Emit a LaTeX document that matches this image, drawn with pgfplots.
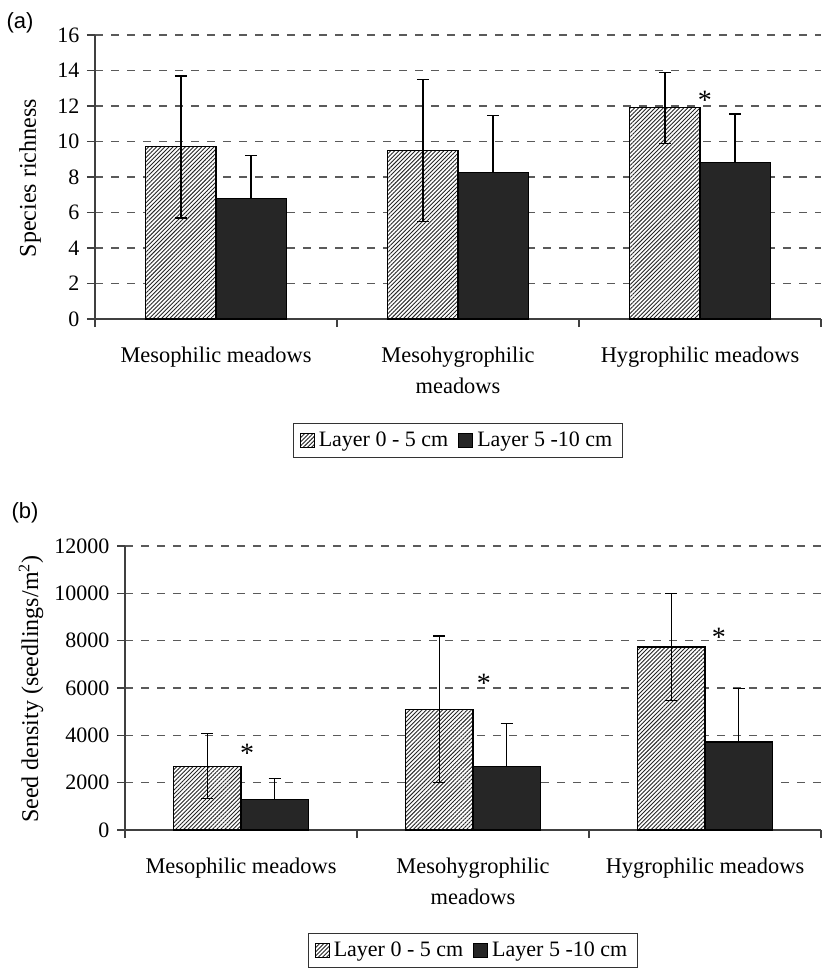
\documentclass[border=0pt]{standalone}
\usepackage{fontspec}
\setmainfont{Liberation Serif}
\setsansfont{Liberation Sans}
\usepackage{pgfplots}
\pgfplotsset{compat=1.18}
\usetikzlibrary{patterns.meta}

\definecolor{barblack}{HTML}{262626}
\definecolor{gridgray}{HTML}{5A5A5A}

\pgfplotsset{
  myaxis/.style={
    scale only axis,
    ybar=0pt, bar width=0.29,
    xmin=0, xmax=3, ymin=0,
    axis x line=bottom, axis y line=left,
    axis line style={-, black!75, line width=0.6pt},
    tick align=outside, major tick length=4pt,
    tick style={black!75, line width=0.6pt},
    xtick={0,1,2,3}, xticklabels={},
    extra x ticks={0.5,1.5,2.5},
    extra x tick labels={Mesophilic meadows,{Mesohygrophilic\\meadows},Hygrophilic meadows},
    extra x tick style={tick style={draw=none}},
    xticklabel style={align=center, font=\fontsize{11.2}{15.5}\selectfont, yshift=-6pt},
    yticklabel style={font=\fontsize{11}{13}\selectfont},
    ymajorgrids,
    grid style={gridgray, line width=0.7pt, dash pattern=on 4pt off 4pt},
    /pgf/number format/assume math mode=true,
    /pgf/number format/1000 sep={},
    scaled y ticks=false,
    ylabel style={font=\fontsize{12}{14}\selectfont, anchor=center},
    legend image code/.code={\draw[##1, line width=0.5pt] (0pt,-3.5pt) rectangle (7pt,3.5pt);},
    legend style={anchor=north, draw=black!80, line width=0.6pt, legend columns=2,
      font=\fontsize{11}{13}\selectfont, inner xsep=3pt, inner ysep=2pt,
      /tikz/every even column/.append style={column sep=3pt}},
  },
  hatched/.style={draw=black, line width=0.6pt, fill=white,
    postaction={pattern={Lines[angle=45, distance=1.45pt, line width=0.45pt]}, pattern color=black!85},
    error bars/.cd, y dir=both, y explicit,
    error bar style={black, line width=0.7pt},
    error mark options={rotate=90, mark size=3pt, line width=0.7pt, black}},
  solidbar/.style={draw=black, line width=0.6pt, fill=barblack,
    error bars/.cd, y dir=plus, y explicit,
    error bar style={black, line width=0.7pt},
    error mark options={rotate=90, mark size=3pt, line width=0.7pt, black}},
}

\begin{document}
\fontsize{11}{13}\selectfont
\begin{tikzpicture}
\useasboundingbox (0,0) rectangle (410.5pt,-484pt);

% ---------- panel (a)
\begin{axis}[myaxis,
  at={(47.5pt,-159.5pt)}, anchor=south west,
  width=363pt, height=142pt,
  ymax=16, ytick={0,2,...,16},
  ylabel={Species richness},
  ylabel style={at={(axis description cs:-0.0895,0.496)}},
  legend style={at={(0.5,-0.366)}},
]
\addplot[hatched] coordinates {
  (0.5,9.7) +- (0,4.0)
  (1.5,9.5) +- (0,4.0)
  (2.5,11.9) +- (0,2.0)
};
\addplot[solidbar] coordinates {
  (0.5,6.8) +- (0,2.4)
  (1.5,8.25) +- (0,3.2)
  (2.5,8.8) +- (0,2.75)
};
\legend{Layer 0 - 5 cm, Layer 5 -10 cm}
\node[font=\fontsize{14}{14}\selectfont, yshift=-2.5pt] at (axis cs:2.52,12.62) {*};
\end{axis}

% ---------- panel (b)
\begin{axis}[myaxis,
  at={(62.5pt,-415pt)}, anchor=south west,
  width=348pt, height=142pt,
  ymax=12000, ytick={0,2000,...,12000},
  ylabel={Seed density (seedlings/m\textsuperscript{2})},
  ylabel style={at={(axis description cs:-0.135,0.496)}},
  legend style={at={(0.5,-0.363)}},
]
\addplot[hatched] coordinates {
  (0.5,2700) +- (0,1370)
  (1.5,5100) +- (0,3100)
  (2.5,7730) +- (0,2270)
};
\addplot[solidbar] coordinates {
  (0.5,1300) +- (0,880)
  (1.5,2700) +- (0,1800)
  (2.5,3720) +- (0,2250)
};
\legend{Layer 0 - 5 cm, Layer 5 -10 cm}
\node[font=\fontsize{14}{14}\selectfont, yshift=-2.5pt] at (axis cs:0.526,3465) {*};
\node[font=\fontsize{14}{14}\selectfont, yshift=-2.5pt] at (axis cs:1.547,6420) {*};
\node[font=\fontsize{14}{14}\selectfont, yshift=-2.5pt] at (axis cs:2.56,8340) {*};
\end{axis}

\node[font=\sffamily\fontsize{11}{12}\selectfont] at (10pt,-11.5pt) {(a)};
\node[font=\sffamily\fontsize{11}{12}\selectfont] at (12.5pt,-256.5pt) {(b)};
\end{tikzpicture}
\end{document}
